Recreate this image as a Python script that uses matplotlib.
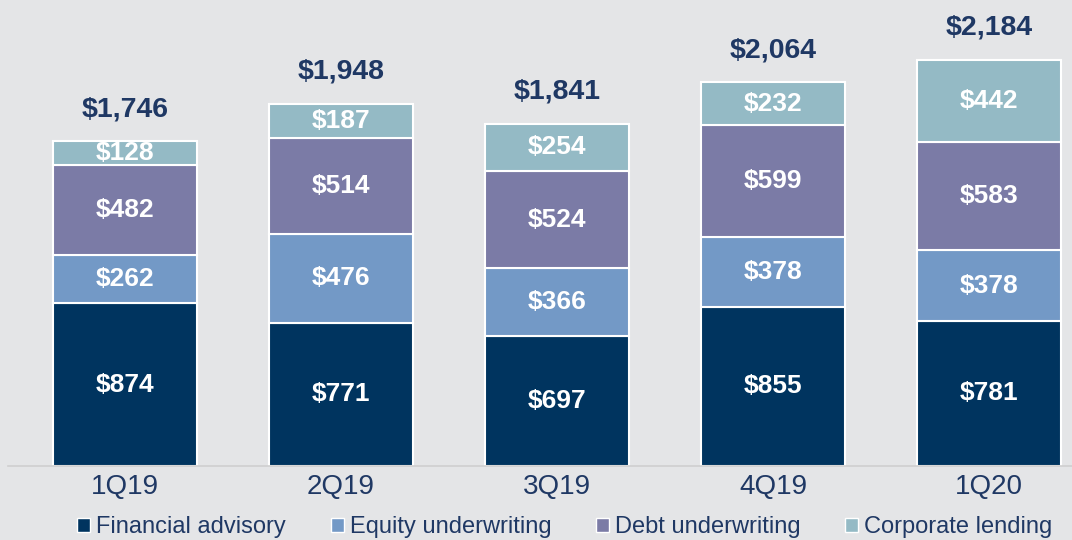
import numpy as np
import matplotlib.pyplot as plt
from matplotlib.patches import Patch

plt.rcParams['font.family'] = ['Liberation Sans', 'DejaVu Sans']

quarters = ['1Q19', '2Q19', '3Q19', '4Q19', '1Q20']
series = ['Financial advisory', 'Equity underwriting', 'Debt underwriting', 'Corporate lending']
advisory = [874, 771, 697, 855, 781]
equity = [262, 476, 366, 378, 378]
debt = [482, 514, 524, 599, 583]
lending = [128, 187, 254, 232, 442]
totals = [1746, 1948, 1841, 2064, 2184]

colors = ['#00345F', '#7399C6', '#7B7BA6', '#94BAC5']
navy = '#1F3864'
bg = '#E4E5E7'

fig = plt.figure(figsize=(10.72, 5.4), dpi=100, facecolor=bg)
ax = fig.add_axes([8 / 1072, 74 / 540, 1 - 8 / 1072, 466 / 540])
ax.set_facecolor(bg)

x = np.arange(len(quarters))
bottom = np.zeros(len(quarters))
for vals, c in zip([advisory, equity, debt, lending], colors):
    bars = ax.bar(x, vals, width=0.665, bottom=bottom, color=c,
                  edgecolor='white', linewidth=1.5)
    for xi, b, v in zip(x, bottom, vals):
        ax.text(xi, b + v / 2, '${:,}'.format(v), ha='center', va='center',
                color='white', fontsize=19, fontweight='bold')
    bottom += np.array(vals)

for xi, t in zip(x, totals):
    ax.text(xi, t + 172, '${:,}'.format(t), ha='center', va='center',
            color=navy, fontsize=20.5, fontweight='bold')

ax.set_xlim(-0.54, 4.384)
ax.set_ylim(0, 2505)
ax.set_xticks(x)
ax.set_xticklabels(quarters, fontsize=20, color=navy)
ax.tick_params(axis='x', length=0, pad=6)
ax.set_yticks([])
for s in ['top', 'right', 'left']:
    ax.spines[s].set_visible(False)
ax.spines['bottom'].set_color('#CFCFCF')
ax.spines['bottom'].set_linewidth(1.2)

handles = [Patch(facecolor=c, edgecolor='white', linewidth=1) for c in colors]
leg = fig.legend(handles, series, loc='lower center', bbox_to_anchor=(0.527, -0.036),
                 ncol=4, frameon=False, fontsize=17, handlelength=0.55,
                 handleheight=0.55, handletextpad=0.25, columnspacing=1.9)
for t in leg.get_texts():
    t.set_color(navy)

fig.savefig('out.png', dpi=100, facecolor=bg)
